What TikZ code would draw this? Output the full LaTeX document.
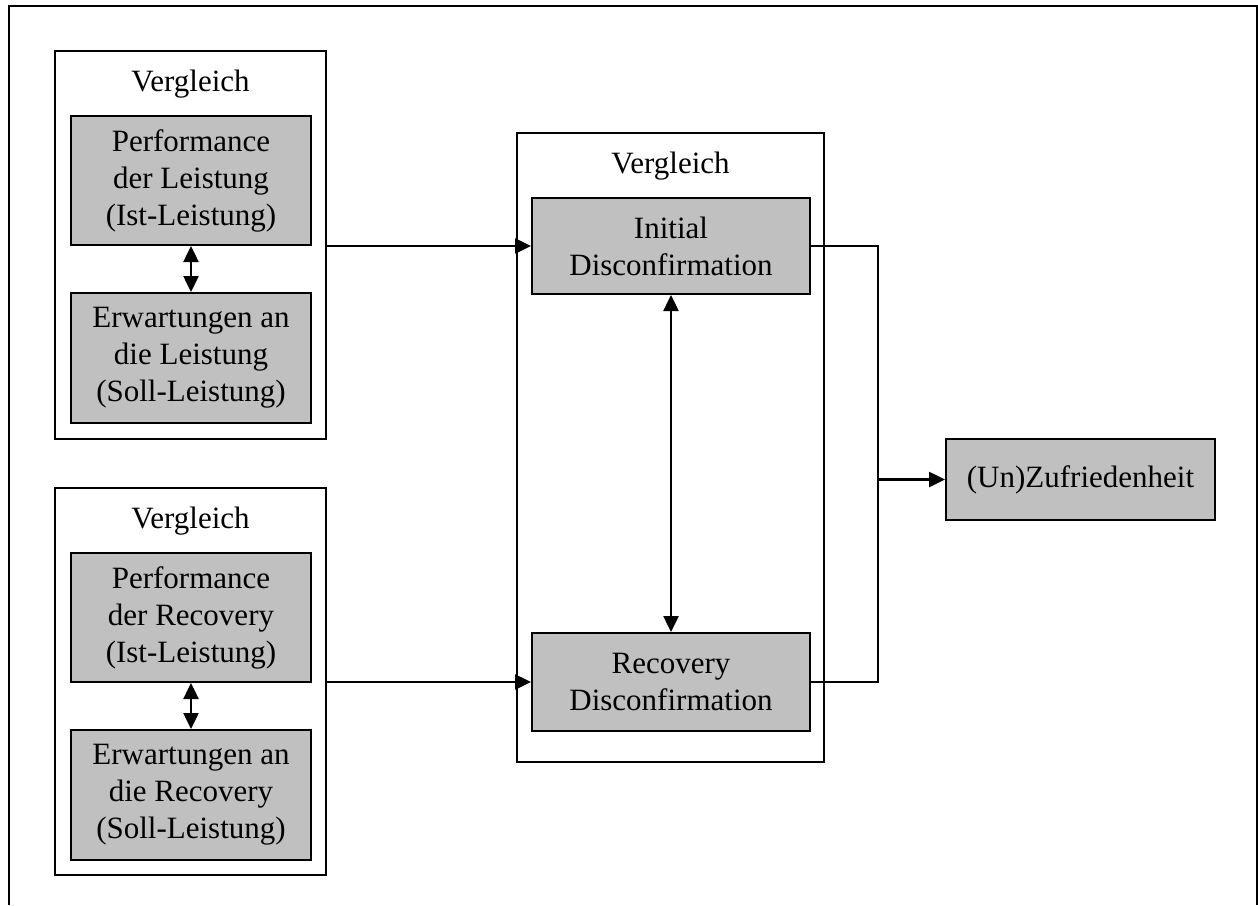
\documentclass[tikz,border=0pt]{standalone}
\usepackage{fontspec}
\setmainfont{Liberation Serif}
\usetikzlibrary{arrows.meta}
\definecolor{boxgray}{RGB}{192,192,192}
\tikzset{
 gbox/.style={draw, fill=boxgray, line width=2pt, align=center, inner sep=0pt, font=\fontsize{31}{37}\selectfont},
 obox/.style={draw, line width=2pt, inner sep=0pt},
 lbl/.style={font=\fontsize{31}{37}\selectfont, anchor=base, inner sep=0pt},
 tip/.tip={Triangle[length=16pt,width=15pt]},
 conn/.style={line width=2.5pt, -tip},
 bconn/.style={line width=2.5pt, tip-tip},
 plainline/.style={line width=2.5pt}
}
\begin{document}
\begin{tikzpicture}[x=1pt,y=-1pt]
\useasboundingbox (0,0) rectangle (1258,905);
\draw[line width=2pt] (9,905) -- (9,6) -- (1257,6) -- (1257,905);

% outer comparison boxes
\node[obox, minimum width=271pt, minimum height=388pt] (uo) at (190.5,245) {};
\node[obox, minimum width=271pt, minimum height=387pt] (lo) at (190.5,681.5) {};
\node[obox, minimum width=307pt, minimum height=629pt] (mo) at (670.5,447.5) {};

\node[lbl] (uv) at (190.5,91) {Vergleich};
\node[lbl] (lv) at (190.5,528) {Vergleich};
\node[lbl] (mv) at (670.5,173) {Vergleich};

% gray boxes
\node[gbox, minimum width=240pt, minimum height=129pt] (pa) at (191,180.5) {Performance\\der Leistung\\(Ist-Leistung)};
\node[gbox, minimum width=240pt, minimum height=130pt] (pb) at (191,358) {Erwartungen an\\die Leistung\\(Soll-Leistung)};
\node[gbox, minimum width=240pt, minimum height=129pt] (ra) at (191,617.5) {Performance\\der Recovery\\(Ist-Leistung)};
\node[gbox, minimum width=240pt, minimum height=130pt] (rb) at (191,795) {Erwartungen an\\die Recovery\\(Soll-Leistung)};
\node[gbox, minimum width=278pt, minimum height=96pt] (ini) at (671,246) {Initial\\Disconfirmation};
\node[gbox, minimum width=278pt, minimum height=98pt] (rec) at (671,682) {Recovery\\Disconfirmation};
\node[gbox, minimum width=269pt, minimum height=81pt] (zuf) at (1080.5,479.5) {(Un)Zufriedenheit};

% connectors
\draw[bconn] (pa.south) -- (pb.north);
\draw[bconn] (ra.south) -- (rb.north);
\draw[bconn] (ini.south) -- (rec.north);
\draw[conn] (ini.west -| uo.east) -- (ini.west);
\draw[conn] (rec.west -| lo.east) -- (rec.west);
\coordinate (j) at (878,479.5);
\draw[plainline] (ini.east) -- (ini.east -| j) -- (rec.east -| j) -- (rec.east);
\draw[conn] (j) -- (zuf.west);
\end{tikzpicture}
\end{document}
